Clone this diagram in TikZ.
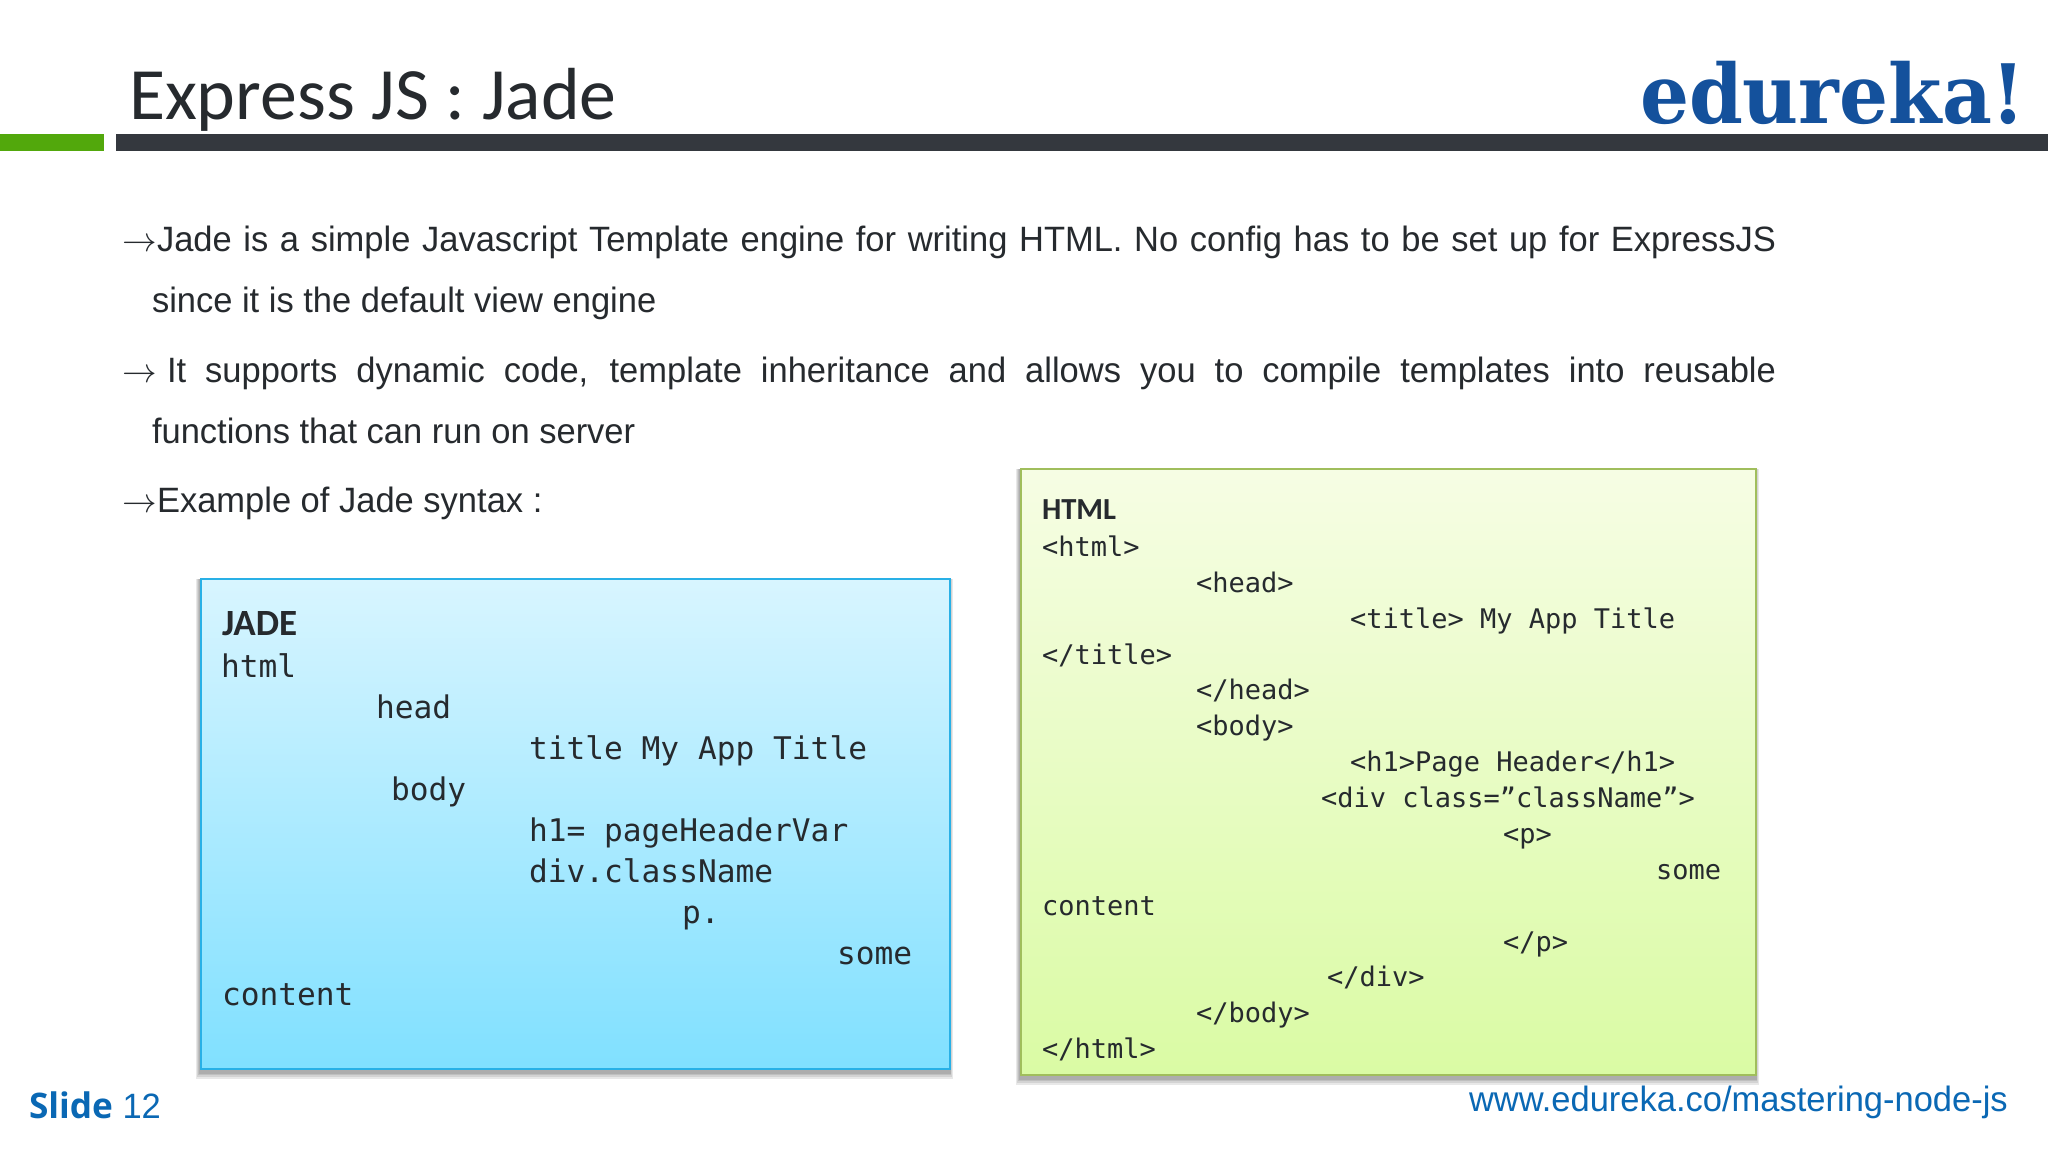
\documentclass[tikz,border=0pt]{standalone}
\usepackage{fontspec}
\setmainfont{Carlito}
\newfontfamily\monofam{DejaVu Sans Mono}
\newfontfamily\logofam{DejaVu Serif}
\newfontfamily\bodyfam[FakeStretch=0.98]{Liberation Sans}
\newfontfamily\slidefam[FakeStretch=1.0]{Open Sans}
\definecolor{inkc}{HTML}{262A2E}
\definecolor{barc}{HTML}{34383E}
\definecolor{greenc}{HTML}{52A80C}
\definecolor{logoc}{HTML}{14519C}
\definecolor{linkc}{HTML}{0A68B4}
\definecolor{jadetop}{HTML}{D8F5FF}
\definecolor{jadebot}{HTML}{80E0FF}
\definecolor{jadeline}{HTML}{29B0E6}
\definecolor{htmltop}{HTML}{F6FDE4}
\definecolor{htmlbot}{HTML}{DAFBA4}
\definecolor{htmlline}{HTML}{A0BE5C}
\tikzset{
  x=0.5pt,y=-0.5pt,
  lbl/.style={inner sep=0pt,outer sep=0pt,anchor=base west,text=inkc},
  bodytxt/.style={lbl,font=\bodyfam\fontsize{17.6}{20}\selectfont},
  jadetxt/.style={lbl,font=\monofam\fontsize{15.6}{18}\selectfont},
  htmltxt/.style={lbl,font=\monofam\fontsize{13.5}{16}\selectfont},
  softshadow/.style={fill=black,opacity=.09,draw=none},
}
\newcommand{\just}[2]{\makebox[#1pt][s]{#2}}
\newcommand{\softrect}[4]{%
  \fill[softshadow] (#1-5,#2) rectangle (#3+3,#4+10);
  \fill[softshadow] (#1-4,#2) rectangle (#3+2,#4+8);
  \fill[softshadow] (#1-3,#2) rectangle (#3+1,#4+6);
  \fill[softshadow] (#1-2,#2) rectangle (#3+1,#4+5);
}
\begin{document}
\begin{tikzpicture}
\useasboundingbox (0,0) rectangle (2048,1152);
\fill[white] (0,0) rectangle (2048,1152);
% header
\fill[greenc] (0,134) rectangle (104,151);
\fill[barc] (116,134) rectangle (2048,151);
\node[lbl,font=\fontsize{36.9}{40}\selectfont] (title) at (129,119) {Express JS : Jade};
\node[lbl,text=logoc,font=\logofam\bfseries\fontsize{41}{44}\selectfont] (logo) at (1640,123) {\scalebox{0.94}[1]{edureka!}};
% body text
\node[bodytxt] (a1) at (122,251) {$\rightarrow$};
\node[bodytxt] (t1) at (157,251) {\just{809.5}{Jade is a simple Javascript Template engine for writing HTML. No config has to be set up for ExpressJS}};
\node[bodytxt] (t2) at (152,312) {since it is the default view engine};
\node[bodytxt] (a2) at (122,382) {$\rightarrow$};
\node[bodytxt] (t3) at (167,382) {\just{804.5}{It supports dynamic code, template inheritance and allows you to compile templates into reusable}};
\node[bodytxt] (t4) at (152,443) {functions that can run on server};
\node[bodytxt] (a3) at (122,512) {$\rightarrow$};
\node[bodytxt] (t5) at (157,512) {Example of Jade syntax :};
% JADE box
\softrect{201}{579}{950}{1069}
\draw[draw=jadeline,line width=1.25pt,top color=jadetop,bottom color=jadebot] (201,579) rectangle (950,1069);
\node[lbl,font=\bfseries\fontsize{18.5}{20}\selectfont] (jt) at (222,635) {JADE};
\node[jadetxt] (j1) at (221,677) {html};
\node[jadetxt] (j2) at (376,718) {head};
\node[jadetxt] (j3) at (529,759) {title My App Title};
\node[jadetxt] (j4) at (391,800) {body};
\node[jadetxt] (j5) at (529,841) {h1= pageHeaderVar};
\node[jadetxt] (j6) at (529,882) {div.className};
\node[jadetxt] (j7) at (682,923) {p.};
\node[jadetxt] (j8) at (837,964) {some};
\node[jadetxt] (j9) at (222,1005) {content};
% HTML box
\softrect{1021}{469}{1756}{1075}
\draw[draw=htmlline,line width=1.25pt,top color=htmltop,bottom color=htmlbot] (1021,469) rectangle (1756,1075);
\node[lbl,font=\bfseries\fontsize{15.3}{18}\selectfont] (ht) at (1042,519) {HTML};
\node[htmltxt] (h1) at (1042,556) {<html>};
\node[htmltxt] (h2) at (1196,592) {<head>};
\node[htmltxt] (h3) at (1350,628) {<title> My App Title};
\node[htmltxt] (h4) at (1042,664) {</title>};
\node[htmltxt] (h5) at (1196,699) {</head>};
\node[htmltxt] (h6) at (1196,735) {<body>};
\node[htmltxt] (h7) at (1350,771) {<h1>Page Header</h1>};
\node[htmltxt] (h8) at (1321,807) {<div class=”className”>};
\node[htmltxt] (h9) at (1503,843) {<p>};
\node[htmltxt] (h10) at (1656,879) {some};
\node[htmltxt] (h11) at (1042,915) {content};
\node[htmltxt] (h12) at (1503,951) {</p>};
\node[htmltxt] (h13) at (1327,986) {</div>};
\node[htmltxt] (h14) at (1196,1022) {</body>};
\node[htmltxt] (h15) at (1042,1058) {</html>};
% footer
\node[lbl,text=linkc,font=\bodyfam\fontsize{17.6}{20}\selectfont] (s12) at (29,1118) {{\slidefam\bfseries Slide} 12};
\node[lbl,text=linkc,font=\bodyfam\fontsize{17.6}{20}\selectfont] (url) at (1469,1111) {www.edureka.co/mastering-node-js};
\end{tikzpicture}
\end{document}
